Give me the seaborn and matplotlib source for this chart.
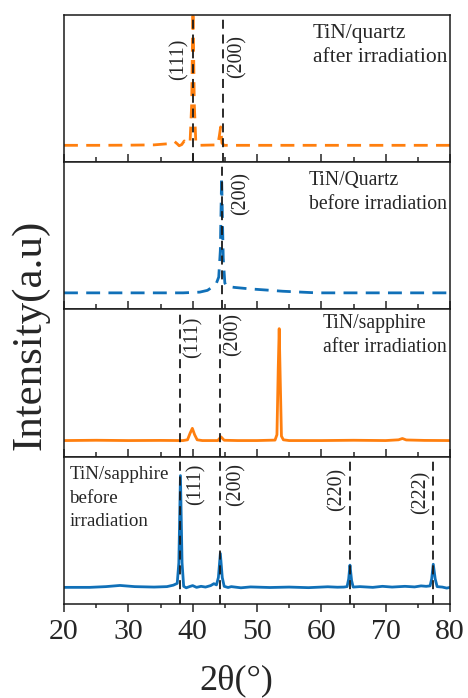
import matplotlib
matplotlib.use("Agg")
import matplotlib.pyplot as plt
import seaborn as sns
import numpy as np
from matplotlib.ticker import MultipleLocator

sns.set_style("ticks")
plt.rcParams['font.family'] = ['Liberation Serif', 'DejaVu Serif']
plt.rcParams['mathtext.fontset'] = 'stix'

ORANGE = '#ff7f0e'
BLUE = '#1070b8'

# ---- data (2theta in degrees, intensity in arbitrary units 0..100 per panel) ----
q_after_x = [20, 25, 30, 34, 36.0, 37.2, 37.6, 37.9, 38.3, 38.7, 39.3, 39.6, 39.85, 40.05, 40.25, 40.5, 41.0,
             43.9, 44.15, 44.35, 44.55, 44.9, 46, 50, 55, 60, 65, 70, 75, 80]
q_after_y = [11.5, 11.5, 11.6, 11.8, 12.5, 14.0, 12.5, 11.2, 12.0, 14.5, 12.5, 14.0, 40.0, 110.0, 40.0, 12.5, 11.5,
             11.8, 18.0, 24.0, 13.0, 11.5, 11.5, 11.5, 11.5, 11.5, 11.5, 11.5, 11.5, 11.5]

q_before_x = [20, 30, 38.5, 41.1, 42.3, 43.2, 43.7, 44.05, 44.3, 44.5, 44.75, 45.0, 45.3, 46.5, 48.9, 51.5, 54.0, 59.3, 65, 70, 75, 80]
q_before_y = [11.3, 11.3, 11.3, 11.8, 13.0, 15.7, 18.0, 22.0, 40.0, 90.0, 35.0, 18.0, 15.7, 15.0, 14.0, 13.2, 12.4, 11.3, 11.3, 11.3, 11.3, 11.3]

s_after_x = [20, 25, 30, 35, 38.5, 39.2, 39.6, 39.95, 40.3, 40.7, 41.5, 43.9, 44.4, 44.9, 47, 50, 52.8, 53.1,
             53.3, 53.45, 53.6, 53.8, 54.1, 55, 60, 65, 70, 72.0, 72.6, 73.2, 76, 80]
s_after_y = [11.0, 11.2, 11.0, 11.1, 11.0, 11.5, 16.0, 19.3, 15.0, 11.5, 11.0, 11.0, 13.5, 11.2, 11.0, 11.0, 11.3, 15.0,
             60.0, 87.0, 55.0, 14.0, 11.5, 11.0, 11.0, 11.2, 11.0, 11.5, 12.4, 11.4, 11.1, 11.0]

s_before_x = [20, 24, 26.5, 28.7, 31, 34, 36.0, 37.0, 37.6, 37.85, 38.1, 38.35, 38.6, 39.0, 39.5, 40.0, 40.6, 41.3, 42.0,
              42.8, 43.3, 43.7, 44.0, 44.3, 44.6, 44.9, 45.5, 46.0, 47.5, 49, 52, 55, 58, 61, 62.5, 63.5, 64.0, 64.25,
              64.45, 64.7, 64.95, 66, 68, 69.5, 71, 73, 74.5, 75.5, 76.3, 76.9, 77.15, 77.4, 77.7, 78.0, 78.8, 79.5, 80]
s_before_y = [11.3, 11.3, 11.8, 12.6, 11.8, 11.5, 11.8, 12.8, 14.0, 28.0, 87.2, 28.0, 12.0, 11.0, 11.8, 12.5, 11.3, 12.0, 11.5,
              12.5, 13.8, 13.0, 18.0, 34.3, 18.0, 12.0, 11.2, 11.8, 11.0, 11.6, 11.2, 11.5, 11.1, 11.7, 11.4, 11.5, 11.8, 17.0,
              26.4, 16.0, 11.5, 11.8, 11.3, 12.0, 11.5, 12.0, 11.6, 12.3, 12.0, 12.3, 17.0, 27.0, 17.0, 11.8, 11.5, 10.8, 11.3]

# reference lines (2theta) and labels for each panel
p1_lines = [40.1, 44.7]
p2_lines = [44.5]
p3_lines = [38.0, 44.3]
p4_lines = [38.1, 44.3, 64.5, 77.4]

p1_labels = [('(111)', 37.9, 0.70), ('(200)', 46.9, 0.72)]
p2_labels = [('(200)', 47.5, 0.79)]
p3_labels = [('(111)', 40.1, 0.81), ('(200)', 46.3, 0.83)]
p4_labels = [('(111)', 40.5, 0.815), ('(200)', 46.8, 0.81), ('(220)', 62.4, 0.78), ('(222)', 75.5, 0.755)]

titles = ['TiN/quartz\nafter irradiation', 'TiN/Quartz\nbefore irradiation',
          'TiN/sapphire\nafter irradiation', 'TiN/sapphire\nbefore\nirradiation']
x_ticks = [20, 30, 40, 50, 60, 70, 80]

fig = plt.figure(figsize=(4.68, 6.98), dpi=100)
gs = fig.add_gridspec(4, 1, left=64/468, right=450/468, top=1-15/698, bottom=1-604/698, hspace=0)
axes = [fig.add_subplot(gs[i]) for i in range(4)]

series = [(q_after_x, q_after_y, ORANGE, True),
          (q_before_x, q_before_y, BLUE, True),
          (s_after_x, s_after_y, ORANGE, False),
          (s_before_x, s_before_y, BLUE, False)]
lines_all = [p1_lines, p2_lines, p3_lines, p4_lines]
labels_all = [p1_labels, p2_labels, p3_labels, p4_labels]
title_pos = [(0.645, 0.94, 15.5, 1.38), (0.635, 0.94, 14.2, 1.38), (0.670, 0.972, 14.2, 1.38), (0.014, 0.935, 13.7, 1.5)]

for i, ax in enumerate(axes):
    x, y, col, dashed = series[i]
    sns.lineplot(x=x, y=y, ax=ax, color=col, lw=2.0, estimator=None, sort=False, zorder=2)
    if dashed:
        ax.lines[-1].set_dashes([5, 3])
    for xv in lines_all[i]:
        ax.axvline(xv, color='#1a1a1a', lw=1.3, dashes=(5, 3.2), zorder=3)
    for txt, xv, yf in labels_all[i]:
        ax.text(xv, yf, txt, rotation=90, ha='center', va='center', fontsize=14.3,
                transform=ax.get_xaxis_transform())
    tx, ty, fs, ls = title_pos[i]
    ax.text(tx, ty, titles[i], transform=ax.transAxes, ha='left', va='top', fontsize=fs,
            linespacing=ls)
    ax.set_xlim(20, 80)
    ax.set_ylim(0, 100)
    ax.set_yticks([])
    ax.set_ylabel('')
    ax.set_xlabel('')
    ax.xaxis.set_major_locator(MultipleLocator(10))
    ax.xaxis.set_minor_locator(MultipleLocator(5))
    for s in ax.spines.values():
        s.set_linewidth(1.1)
        s.set_color('#1a1a1a')
    if i < 3:
        ax.tick_params(axis='x', which='both', direction='in', labelbottom=False, top=False, width=1.1)
        ax.tick_params(axis='x', which='major', length=6)
        ax.tick_params(axis='x', which='minor', length=3.5)
    else:
        ax.set_xticks(x_ticks)
        ax.set_xticklabels([str(t) for t in x_ticks])
        ax.tick_params(axis='x', which='both', direction='out', top=False, width=1.1, labelsize=21.5, pad=5)
        ax.tick_params(axis='x', which='major', length=5.5)
        ax.tick_params(axis='x', which='minor', length=3)

fig.text(30/468, 1-335/698, 'Intensity(a.u)', rotation=90, ha='center', va='center', fontsize=31)
fig.text(236/468, 1-681/698, '2θ(°)', ha='center', va='center', fontsize=26)

fig.savefig('out.png', dpi=100)
